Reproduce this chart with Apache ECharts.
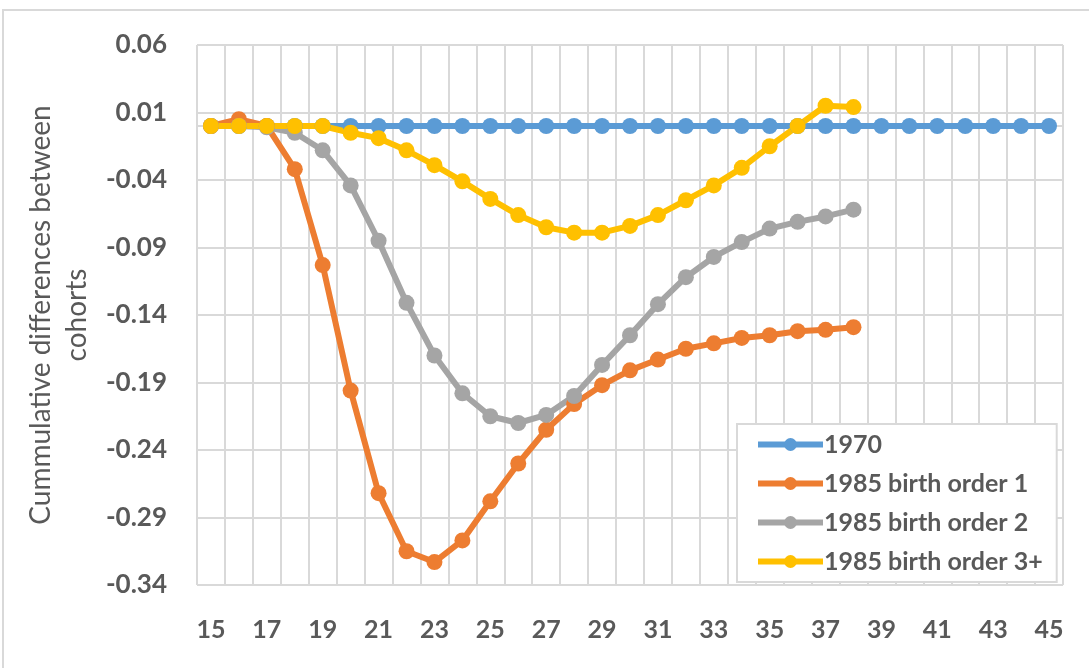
<!DOCTYPE html>
<html>
<head>
<meta charset="utf-8">
<script src="https://cdn.jsdelivr.net/npm/echarts@6/dist/echarts.min.js"></script>
<style>
  html, body { margin: 0; padding: 0; background: #fff; }
  #frame { position: absolute; left: 2px; top: 9px; width: 1100px; height: 700px; border: 2px solid #D9D9D9; }
  #chart { position: absolute; left: 0; top: 0; width: 1089px; height: 668px; }
</style>
</head>
<body>
<div id="frame"></div>
<div id="chart"></div>
<script>
// ages
const ages = ['15','16','17','18','19','20','21','22','23','24','25','26','27','28','29','30',
  '31','32','33','34','35','36','37','38','39','40','41','42','43','44','45']

// series values
const cohort1970 = [0,0,0,0,0,0,0,0,0,0,0,0,0,0,0,0,0,0,0,0,0,0,0,0,0,0,0,0,0,0,0]
const order1 = [0,0.005,0,-0.032,-0.103,-0.196,-0.272,-0.315,-0.323,-0.307,-0.278,-0.25,-0.225,-0.206,-0.192,-0.181,
  -0.173,-0.165,-0.161,-0.157,-0.155,-0.152,-0.151,-0.149]
const order2 = [0,0,-0.001,-0.005,-0.018,-0.044,-0.085,-0.131,-0.17,-0.198,-0.215,-0.22,-0.214,-0.2,-0.177,-0.155,
  -0.132,-0.112,-0.097,-0.086,-0.076,-0.071,-0.067,-0.062]
const order3 = [0,0,0,0,0,-0.005,-0.009,-0.018,-0.029,-0.041,-0.054,-0.066,-0.075,-0.079,-0.079,-0.074,
  -0.066,-0.055,-0.044,-0.031,-0.015,0,0.015,0.014]

const seriesNames = ['1970', '1985 birth order 1', '1985 birth order 2', '1985 birth order 3+']
const seriesColors = ['#5B9BD5', '#ED7D31', '#A5A5A5', '#FFC000']

let myChart = echarts.init(document.getElementById('chart'))

function lineSeries(name, data, color) {
  return {
    name: name,
    type: 'line',
    data: data,
    symbol: 'circle',
    symbolSize: 16,
    color: color,
    lineStyle: { width: 6, color: color },
    itemStyle: { color: color },
    animation: false
  }
}

let option = {
  textStyle: { fontFamily: 'Lato' },
  grid: { left: 197, right: 26, top: 45, bottom: 83 },
  legend: {
    orient: 'vertical',
    left: 737,
    top: 424,
    padding: [8, 14, 8, 18],
    itemWidth: 65,
    itemHeight: 16,
    itemGap: 14,
    borderColor: '#D9D9D9',
    borderWidth: 2,
    backgroundColor: '#fff',
    lineStyle: { width: 6 },
    textStyle: { fontFamily: 'Lato', fontWeight: 'bold', fontSize: 25, color: '#595959', padding: [0, 0, 0, -4] },
    data: seriesNames
  },
  xAxis: {
    type: 'category',
    data: ages,
    boundaryGap: true,
    axisLine: { show: true, lineStyle: { color: '#D9D9D9', width: 2 } },
    axisTick: { show: false, interval: 0 },
    splitLine: { show: true, interval: 0, lineStyle: { color: '#D9D9D9', width: 2 } },
    axisLabel: { interval: 1, margin: 32, fontFamily: 'Lato', fontWeight: 'bold', fontSize: 25, color: '#595959' }
  },
  yAxis: {
    type: 'value',
    min: -0.34,
    max: 0.06,
    interval: 0.05,
    name: 'Cummulative differences between\ncohorts',
    nameLocation: 'middle',
    nameRotate: 90,
    nameGap: 97,
    nameTextStyle: { fontFamily: 'Lato', fontSize: 28, color: '#595959', lineHeight: 36 },
    axisLine: { show: false },
    axisTick: { show: false },
    splitLine: { show: true, lineStyle: { color: '#D9D9D9', width: 2 } },
    axisLabel: {
      margin: 30,
      fontFamily: 'Lato', fontWeight: 'bold', fontSize: 26, color: '#595959',
      formatter: function (v) { return v.toFixed(2) }
    }
  },
  series: [
    lineSeries(seriesNames[0], cohort1970, seriesColors[0]),
    lineSeries(seriesNames[1], order1, seriesColors[1]),
    lineSeries(seriesNames[2], order2, seriesColors[2]),
    lineSeries(seriesNames[3], order3, seriesColors[3])
  ]
}

myChart.setOption(option)
</script>
</body>
</html>
